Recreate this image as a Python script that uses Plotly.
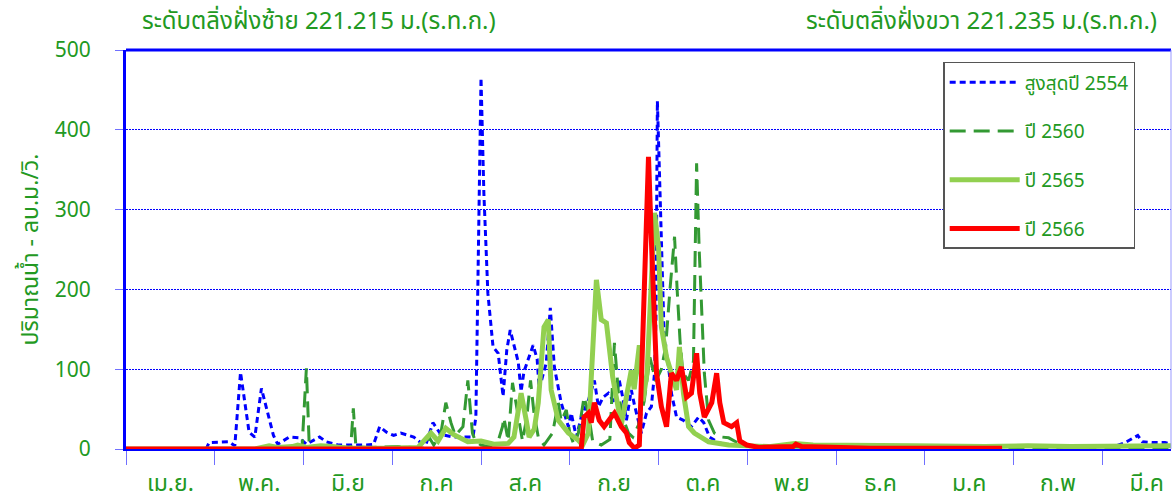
import plotly.graph_objects as go

# ---------------- data (day index from 1 April, value m3/s) ----------------
MONTHS = ["เม.ย.", "พ.ค.", "มิ.ย", "ก.ค", "ส.ค", "ก.ย", "ต.ค", "พ.ย", "ธ.ค", "ม.ค", "ก.พ", "มี.ค"]
MONTH_STEP = 31
Y_TICKS = [0, 100, 200, 300, 400, 500]

SERIES_NAMES = ["สูงสุดปี 2554", "ปี 2560", "ปี 2565", "ปี 2566"]

Y2554 = [(0, 0), (28, 0), (29, 8), (33, 9), (36, 9), (38, 4), (40, 96), (43, 21), (45, 15), (47.3, 76),
         (51.5, 17), (53, 6), (57, 15), (60.6, 14), (63, 6), (67.6, 15), (70, 9), (74, 5), (77, 5), (84, 5),
         (86.5, 6), (88.6, 28), (91, 21), (93.5, 17), (96, 20), (100.5, 15), (103, 8), (104.7, 5), (107.2, 33),
         (110, 18), (114.5, 15), (121.2, 15), (122.2, 40), (123.2, 250), (124, 465), (125, 320), (126.4, 195),
         (128.2, 128), (130, 120), (131.7, 66), (133, 124), (134.2, 149), (137, 109), (138, 72), (139, 97),
         (142.2, 130), (143.6, 113), (144.3, 75), (146.8, 108), (148.2, 177), (149.6, 103), (152, 58),
         (154.5, 28), (155.5, 45), (157.3, 15), (159, 40), (161.5, 61), (163.6, 86), (165, 53), (166.7, 65),
         (168.5, 70), (170.6, 58), (172.3, 86), (173.7, 61), (174.8, 36), (176.5, 74), (177.6, 55), (180, 20),
         (181.8, 45), (183.5, 53), (184.6, 95), (185.1, 160), (185.6, 436), (187, 262), (188, 137),
         (189.5, 103), (190.5, 70), (192.3, 40), (194.7, 36), (197.5, 28), (200, 40), (201.8, 33), (203.8, 15),
         (207, 8), (210.5, 5), (215, 4), (230, 3), (250, 3), (266, 3), (268.6, 5), (272, 3), (290, 3),
         (320, 3), (345, 3), (349, 8), (351, 12), (353.4, 17), (355, 9), (358.7, 8), (362.9, 8), (365, 6)]

Y2560 = [(0, 0), (60, 0), (61.5, 3), (63, 101), (64, 5), (66, 2), (72, 3), (78.5, 2), (79.4, 51), (80.3, 3),
         (85, 2), (95, 3), (100, 2), (104, 1), (105.8, 15), (107.5, 5), (110, 20), (111.7, 58), (113.5, 33),
         (115, 17), (117.7, 28), (119.4, 86), (121, 20), (122, 10), (124, 5), (127, 3), (130, 10),
         (131.5, 28), (132, 39), (133.5, 10), (135, 83), (137, 40), (138.5, 10), (140, 40), (141.3, 86),
         (142.5, 45), (144, 15), (146, 5), (149, 20), (151, 58), (152, 35), (153.8, 49), (155, 20),
         (156.5, 5), (158, 20), (160, 65), (161.5, 45), (163, 10), (166, 5), (169, 12), (170.6, 133),
         (172, 70), (173.5, 40), (175.5, 20), (177, 15), (179, 30), (181, 60), (183, 115), (185, 85),
         (187, 100), (188.5, 128), (190, 200), (191.6, 266), (192.5, 200), (193.5, 137), (194.5, 95),
         (196.5, 86), (198.2, 110), (199.3, 358), (200.2, 250), (201, 187), (202, 95), (203.5, 36),
         (205.5, 20), (208, 15), (210.5, 14), (215, 5), (222, 3), (240, 2), (300, 2), (365, 2)]

Y2565 = [(0, 0), (45, 0), (50, 4), (53, 2), (58, 3), (60, 5), (63, 2), (68, 4), (72, 3), (78, 1), (90, 1),
         (100, 1), (102, 2), (106.5, 20), (109, 10), (111.7, 26), (114.5, 18), (119.4, 9), (124, 10),
         (128.5, 6), (133.5, 7), (135.5, 15), (138, 70), (139.8, 36), (140.8, 15), (142.6, 25), (144, 58),
         (146, 153), (147.5, 162), (148.5, 74), (151, 36), (154.5, 20), (158, 11), (159.5, 5), (161.5, 20),
         (164.3, 212), (166, 162), (167.8, 158), (170, 90), (173, 30), (175.5, 83), (176.5, 99),
         (177.5, 75), (179.3, 130), (180.5, 60), (182, 95), (184.6, 296), (186, 253), (187, 153),
         (188.8, 115), (190.5, 95), (192.3, 74), (193.3, 128), (194.7, 70), (196.5, 28), (198.5, 20),
         (203.5, 9), (210.5, 5), (224.5, 3), (233.6, 7), (240, 5), (255, 4), (275, 4), (300, 3), (315, 4),
         (330, 3), (345, 3), (365, 4)]

Y2566 = [(0, 0), (159, 0), (160, 40), (161.5, 45), (162.5, 33), (163.6, 58), (165.3, 36), (167, 28),
         (169.5, 40), (170.6, 45), (173, 28), (174.8, 20), (175.8, 8), (177.6, 1), (179.3, 5), (181, 178),
         (182.5, 366), (183.5, 262), (185.3, 95), (187, 53), (188.8, 28), (190.5, 95), (192.3, 86),
         (194, 103), (195.8, 65), (197.5, 70), (199.3, 120), (200.4, 70), (202, 40), (204.6, 58),
         (206.3, 95), (207.4, 58), (208.8, 33), (211.5, 28), (213.3, 33), (214.4, 10), (216.8, 5),
         (221, 2), (233, 3), (234, 6), (236, 3), (260, 1), (306, 1)]

LEFT_TITLE = "ระดับตลิ่งฝั่งซ้าย 221.215 ม.(ร.ท.ก.)"
RIGHT_TITLE = "ระดับตลิ่งฝั่งขวา 221.235 ม.(ร.ท.ก.)"
Y_TITLE = "ปริมาณน้ำ - ลบ.ม./วิ."

# ---------------- style ----------------
GREEN_TXT = "#229922"
FONT = "Noto Sans Thai, Tahoma, Leelawadee UI, Noto Sans, DejaVu Sans, sans-serif"
STYLES = [
    dict(color="#0000FF", width=3, dash="6px,4px"),
    dict(color="#339933", width=3, dash="16px,8px"),
    dict(color="#92D050", width=5, dash="solid"),
    dict(color="#FF0000", width=5, dash="solid"),
]

fig = go.Figure()
for i, (name, data) in enumerate(zip(SERIES_NAMES, [Y2554, Y2560, Y2565, Y2566])):
    xs = [d for d, _ in data]
    ys = [v for _, v in data]
    fig.add_trace(go.Scatter(x=xs, y=ys, mode="lines", name=name, line=STYLES[i],
                             legendgroup=f"g{i}"))

n_months = len(MONTHS)
fig.update_layout(
    width=1173, height=504,
    margin=dict(l=126, r=2, t=50, b=55, autoexpand=False),
    paper_bgcolor="white", plot_bgcolor="white",
    font=dict(family=FONT, color=GREEN_TXT),
    showlegend=True,
    legend=dict(x=0.782, y=0.97, xanchor="left", yanchor="top",
                bgcolor="white", bordercolor="#555555", borderwidth=1.5,
                font=dict(size=19, color=GREEN_TXT), tracegroupgap=21,
                itemwidth=70),
    xaxis=dict(range=[0, 365], showgrid=False, zeroline=False, automargin=False,
               tickmode="array",
               tickvals=[MONTH_STEP * k + MONTH_STEP / 2 for k in range(n_months)],
               ticktext=MONTHS, ticks="", ticklabelstandoff=12,
               tickfont=dict(size=23, color=GREEN_TXT),
               showline=True, linecolor="#0000FF", linewidth=2,
               minor=dict(tickmode="array", tickvals=[MONTH_STEP * k for k in range(n_months)],
                          ticks="outside", ticklen=14, tickcolor="#7070ff", tickwidth=1)),
    yaxis=dict(range=[0, 500], tickvals=Y_TICKS, showgrid=True, gridcolor="#0000ff",
               griddash="2px,1px", gridwidth=1, zeroline=False, automargin=False,
               showline=True, linecolor="#0000FF", linewidth=3,
               ticks="outside", ticklen=8, tickcolor="#7070ff",
               ticklabelstandoff=20,
               tickfont=dict(size=21, color=GREEN_TXT),
               title=dict(text=Y_TITLE, font=dict(size=23, color=GREEN_TXT), standoff=10)),
    shapes=[
        dict(type="line", xref="paper", yref="paper", x0=0, x1=1, y0=1, y1=1,
             line=dict(color="#0000FF", width=3)),
        dict(type="line", xref="paper", yref="paper", x0=1, x1=1, y0=0, y1=1,
             line=dict(color="#9999ff", width=1)),
    ],
    annotations=[
        dict(text=LEFT_TITLE, xref="paper", yref="paper", x=0.0, xshift=14, y=1.0, yshift=28,
             xanchor="left", yanchor="middle", showarrow=False,
             font=dict(size=24, color=GREEN_TXT)),
        dict(text=RIGHT_TITLE, xref="paper", yref="paper", x=1.0, xshift=-12, y=1.0, yshift=28,
             xanchor="right", yanchor="middle", showarrow=False,
             font=dict(size=24, color=GREEN_TXT)),
    ],
)

fig.write_html("out.html", config={"displayModeBar": False},
               post_script="document.body.style.margin='0px';document.body.style.overflow='hidden';")
